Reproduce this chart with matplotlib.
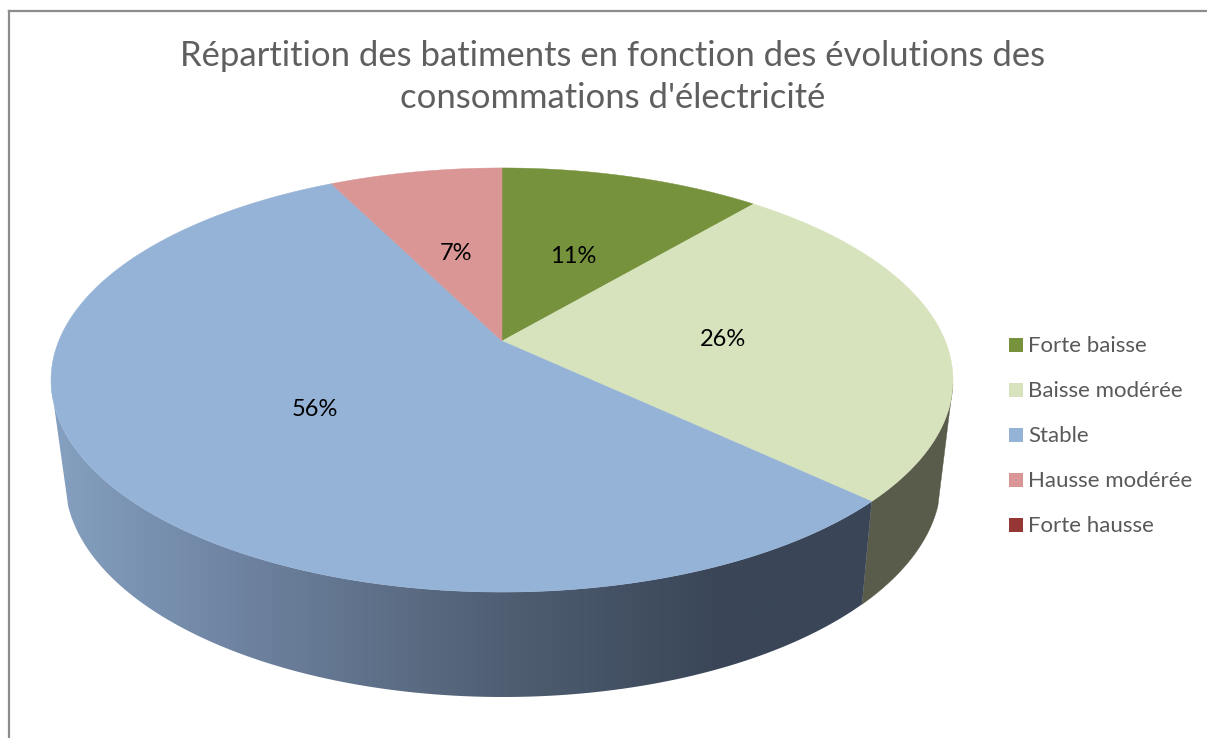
import numpy as np
import matplotlib
matplotlib.use("Agg")
import matplotlib.pyplot as plt
from matplotlib.patches import Polygon, Rectangle
from matplotlib.colors import to_rgb

title = "Répartition des batiments en fonction des évolutions des\nconsommations d'électricité"
categories = ["Forte baisse", "Baisse modérée", "Stable", "Hausse modérée", "Forte hausse"]
values = [11.2, 25.8, 55.6, 7.4, 0.0]
colors = ["#76923c", "#d7e3bc", "#95b3d7", "#d99694", "#953735"]

# pie geometry, in pixels
APEX = (502, 341)
C, A, K = 443.3, 204.9, 0.184     # perspective of the top face
TOP_ELL = (502, 380, 451, 212)
LOW_ELL = (503, 480, 438, 217)
TANGENT = 0.12     # where the wall outline leaves the lower ellipse


def project(theta, r=1.0):
    # theta clockwise from 12 o'clock
    x = r * np.sin(theta)
    y = r * np.cos(theta)
    d = 1 + K * y
    return APEX[0] + C * x / d, APEX[1] - A * y / d


def ell_param(px, py):
    return np.arctan2((py - TOP_ELL[1]) / TOP_ELL[3], (px - TOP_ELL[0]) / TOP_ELL[2])


def ell(e, t):
    return e[0] + e[2] * np.cos(t), e[1] + e[3] * np.sin(t)


fig = plt.figure(figsize=(12.07, 7.38), dpi=100)
ax = fig.add_axes([0, 0, 1, 1])
ax.set_xlim(0, 1207)
ax.set_ylim(738, 0)
ax.axis("off")

# chart frame
ax.plot([9, 9], [738, 11], color="#8c8c8c", lw=1.6)
ax.plot([9, 1207], [11, 11], color="#8c8c8c", lw=1.6)

shares = np.array(values) / sum(values)
edges = np.r_[0, np.cumsum(shares)] * 2 * np.pi

# side wall
seam = ell_param(*project(edges[2]))
tx, ty = ell(LOW_ELL, np.linspace(seam, TANGENT, 200))
ux, uy = ell(TOP_ELL, np.linspace(0.02, seam, 200))
ax.add_patch(Polygon(np.column_stack([np.r_[tx, ux], np.r_[ty, uy]]), closed=True,
                     fc="#595c4a", ec="#595c4a", lw=0.3))

stops_x = [60, 200, 500, 720, 880]
stops_c = np.array([to_rgb(c) for c in ["#849fbf", "#7389a8", "#505f73", "#3a4658", "#3a4658"]])
xs = np.linspace(50, 880, 800)
grad = np.stack([np.interp(xs, stops_x, stops_c[:, i]) for i in range(3)], axis=1)[None, :, :]
im = ax.imshow(grad, extent=(50, 880, 710, 370), aspect="auto", zorder=2, interpolation="bilinear")
tx, ty = ell(LOW_ELL, np.linspace(seam, np.pi - TANGENT, 200))
ux, uy = ell(TOP_ELL, np.linspace(np.pi - 0.02, seam, 200))
wall = Polygon(np.column_stack([np.r_[tx, ux], np.r_[ty, uy]]), closed=True,
               transform=ax.transData, fc="none", ec="none")
ax.add_patch(wall)
im.set_clip_path(wall)
ax.set_xlim(0, 1207)
ax.set_ylim(738, 0)

# top face
for i, c in enumerate(colors):
    if values[i] == 0:
        continue
    th = np.linspace(edges[i], edges[i + 1], 200)
    px, py = project(th)
    pts = np.column_stack([np.r_[APEX[0], px], np.r_[APEX[1], py]])
    ax.add_patch(Polygon(pts, closed=True, fc=c, ec=c, lw=0.3, zorder=3))
    mx, my = project((edges[i] + edges[i + 1]) / 2, 0.5)
    ax.text(mx + 1, my + 4, f"{values[i]:.0f}%", ha="center", va="center", fontsize=17,
            family="Lato", color="black", zorder=4)

ax.text(613, 77, title, ha="center", va="center", fontsize=24.9, family="Lato",
        color="#5f5f5f", linespacing=1.42)

# legend
for i, (name, c) in enumerate(zip(categories, colors)):
    yy = 345 + 45 * i
    ax.add_patch(Rectangle((1009, yy - 7), 14, 14, fc=c, ec="none"))
    ax.text(1028, yy + 1, name, ha="left", va="center", fontsize=16, family="Lato", color="#595959")

fig.savefig("out.png", dpi=100)
